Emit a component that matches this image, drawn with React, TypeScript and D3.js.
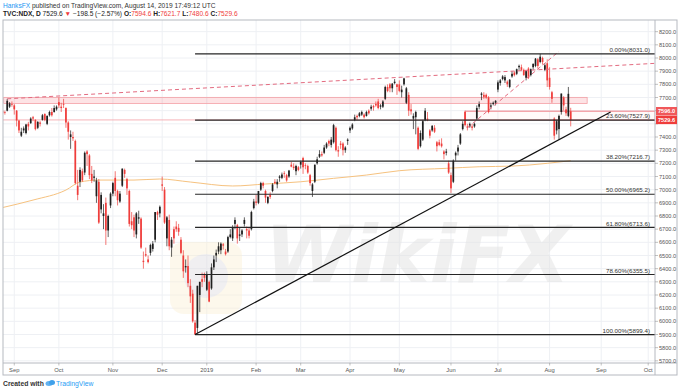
import React, { useEffect } from 'react';
import * as d3 from 'd3';

const W = 680;
const H = 392;

// daily NDX bars from Aug 27 2018 to Aug 14 2019, [open, high, low, close]
const candles: [number, number, number, number][] = [
  // Aug 2018
  [7600, 7610, 7570, 7580], [7590, 7600, 7570, 7585], [7600, 7690, 7595, 7675], [7630, 7665, 7620, 7655], [7650, 7670, 7630, 7645],
  // Sep
  [7640, 7650, 7570, 7610], [7600, 7605, 7480, 7525], [7525, 7530, 7430, 7450], [7410, 7470, 7400, 7440], [7450, 7480, 7430, 7465],
  [7430, 7500, 7420, 7495], [7500, 7515, 7450, 7480], [7505, 7550, 7500, 7540], [7550, 7560, 7520, 7540], [7530, 7535, 7450, 7460],
  [7470, 7520, 7460, 7515], [7510, 7520, 7480, 7500], [7530, 7575, 7525, 7565], [7575, 7580, 7520, 7530], [7500, 7565, 7490, 7560],
  [7565, 7600, 7555, 7590], [7590, 7620, 7555, 7565], [7590, 7640, 7585, 7620], [7610, 7640, 7600, 7630],
  // Oct
  [7665, 7700, 7620, 7640], [7630, 7660, 7590, 7620], [7650, 7690, 7620, 7645], [7620, 7625, 7470, 7510], [7510, 7520, 7380, 7440],
  [7400, 7450, 7310, 7420], [7400, 7440, 7370, 7390], [7370, 7380, 7040, 7050], [7030, 7150, 6920, 6960], [7060, 7170, 7020, 7150],
  [7140, 7160, 7060, 7070], [7130, 7290, 7110, 7280], [7290, 7300, 7180, 7270], [7260, 7270, 7080, 7110], [7120, 7180, 7050, 7070],
  [7090, 7150, 7060, 7100], [6950, 7090, 6900, 7070], [7060, 7080, 6740, 6750], [6850, 6980, 6820, 6960], [6800, 6890, 6700, 6820],
  [6900, 6940, 6580, 6690], [6690, 6810, 6640, 6800], [6880, 6980, 6860, 6970],
  // Nov
  [6970, 7060, 6950, 7050], [7090, 7140, 6950, 6990], [6990, 7000, 6880, 6920], [6910, 6990, 6900, 6970], [7030, 7160, 7020, 7160],
  [7150, 7160, 7090, 7120], [7080, 7090, 6960, 7010], [6990, 7000, 6720, 6740], [6760, 6830, 6700, 6730], [6790, 6810, 6640, 6690],
  [6660, 6830, 6630, 6820], [6780, 6840, 6740, 6790], [6780, 6790, 6550, 6560], [6460, 6530, 6400, 6450], [6510, 6560, 6490, 6500],
  [6470, 6500, 6440, 6450], [6520, 6590, 6500, 6580], [6550, 6610, 6530, 6590], [6620, 6830, 6600, 6830], [6830, 6840, 6770, 6810],
  [6820, 6880, 6790, 6870],
  // Dec
  [7040, 7100, 6990, 7030], [7000, 7020, 6740, 6750], [6630, 6800, 6570, 6790], [6770, 6810, 6540, 6570], [6560, 6640, 6490, 6620],
  [6700, 6720, 6590, 6630], [6720, 6760, 6680, 6700], [6710, 6740, 6650, 6680], [6620, 6640, 6510, 6520], [6500, 6540, 6330, 6380],
  [6410, 6470, 6370, 6420], [6420, 6500, 6260, 6290], [6270, 6320, 6140, 6190], [6210, 6240, 5990, 6000], [5990, 6010, 5899.4, 5900],
  [5950, 6270, 5910, 6270], [6200, 6300, 6070, 6300], [6320, 6370, 6260, 6300], [6360, 6370, 6300, 6330],
  // Jan 2019
  [6240, 6380, 6230, 6360], [6300, 6310, 6145, 6150], [6250, 6440, 6240, 6410], [6410, 6500, 6390, 6470], [6500, 6545, 6450, 6520],
  [6530, 6600, 6510, 6570], [6540, 6600, 6510, 6590], [6585, 6595, 6545, 6575], [6530, 6550, 6500, 6510], [6530, 6650, 6520, 6640],
  [6640, 6700, 6630, 6660], [6630, 6730, 6610, 6710], [6740, 6790, 6700, 6770], [6730, 6740, 6590, 6630], [6650, 6710, 6610, 6660],
  [6660, 6700, 6640, 6690], [6740, 6790, 6720, 6770], [6700, 6720, 6630, 6690], [6690, 6710, 6630, 6650], [6700, 6840, 6690, 6830],
  [6860, 6930, 6850, 6910],
  // Feb
  [6910, 6960, 6880, 6900], [6900, 6990, 6890, 6990], [7000, 7060, 6990, 7050], [7050, 7060, 7010, 7030], [6990, 7000, 6900, 6940],
  [6900, 6950, 6890, 6945], [6960, 6980, 6930, 6945], [6990, 7050, 6980, 7040], [7060, 7080, 7040, 7050], [7040, 7080, 7010, 7060],
  [7090, 7110, 7060, 7100], [7090, 7130, 7080, 7115], [7125, 7140, 7090, 7120], [7110, 7120, 7060, 7070], [7100, 7150, 7090, 7145],
  [7190, 7210, 7170, 7175], [7175, 7200, 7150, 7165], [7140, 7190, 7110, 7180], [7170, 7180, 7140, 7150],
  // Mar
  [7190, 7220, 7160, 7210], [7240, 7250, 7120, 7170], [7185, 7200, 7155, 7180], [7180, 7190, 7120, 7130], [7110, 7120, 7030, 7050],
  [6990, 7050, 6945, 7040], [7060, 7190, 7050, 7190], [7200, 7250, 7190, 7230], [7250, 7300, 7240, 7270], [7270, 7290, 7250, 7260],
  [7280, 7340, 7270, 7320], [7320, 7360, 7310, 7350], [7370, 7380, 7330, 7350], [7340, 7400, 7320, 7380], [7360, 7500, 7350, 7490],
  [7470, 7480, 7290, 7300], [7300, 7330, 7250, 7290], [7350, 7370, 7310, 7340], [7350, 7360, 7260, 7300], [7300, 7330, 7280, 7320],
  [7370, 7390, 7340, 7380],
  // Apr
  [7450, 7480, 7430, 7470], [7465, 7505, 7455, 7495], [7530, 7570, 7520, 7550], [7560, 7570, 7530, 7550], [7560, 7590, 7550, 7580],
  [7570, 7600, 7560, 7590], [7570, 7580, 7540, 7550], [7560, 7600, 7555, 7590], [7600, 7610, 7570, 7580], [7615, 7645, 7600, 7630],
  [7635, 7645, 7600, 7625], [7650, 7670, 7630, 7640], [7670, 7690, 7610, 7620], [7630, 7650, 7610, 7640], [7630, 7680, 7620, 7670],
  [7690, 7790, 7680, 7780], [7780, 7800, 7740, 7750], [7800, 7810, 7740, 7770], [7770, 7810, 7740, 7805], [7810, 7840, 7800, 7820],
  [7800, 7805, 7720, 7780],
  // May
  [7800, 7830, 7740, 7750], [7740, 7790, 7700, 7760], [7800, 7850, 7790, 7845], [7660, 7780, 7650, 7770], [7720, 7740, 7560, 7600],
  [7610, 7650, 7570, 7595], [7540, 7580, 7460, 7560], [7550, 7600, 7420, 7590], [7470, 7480, 7300, 7310], [7330, 7450, 7320, 7430],
  [7380, 7530, 7370, 7520], [7530, 7620, 7520, 7600], [7540, 7590, 7520, 7530], [7450, 7460, 7390, 7410], [7450, 7490, 7440, 7485],
  [7470, 7490, 7430, 7440], [7360, 7370, 7290, 7330], [7360, 7380, 7330, 7340], [7350, 7390, 7320, 7330], [7290, 7300, 7230, 7270],
  [7280, 7310, 7260, 7290], [7200, 7220, 7120, 7130],
  // Jun
  [7110, 7130, 6975, 7010], [7060, 7230, 7050, 7220], [7260, 7290, 7220, 7280], [7290, 7340, 7260, 7320], [7350, 7430, 7340, 7420],
  [7460, 7520, 7450, 7500], [7590, 7600, 7480, 7490], [7480, 7500, 7450, 7470], [7480, 7510, 7470, 7500], [7480, 7500, 7450, 7470],
  [7480, 7510, 7470, 7500], [7540, 7640, 7530, 7620], [7630, 7670, 7610, 7650], [7720, 7740, 7680, 7730], [7720, 7740, 7690, 7705],
  [7720, 7730, 7690, 7700], [7700, 7710, 7580, 7590], [7630, 7660, 7610, 7640], [7650, 7670, 7640, 7660], [7660, 7680, 7640, 7675],
  // Jul
  [7760, 7830, 7740, 7815], [7810, 7840, 7790, 7830], [7840, 7870, 7830, 7860], [7830, 7870, 7810, 7855], [7820, 7830, 7780, 7800],
  [7780, 7840, 7770, 7835], [7860, 7900, 7850, 7880], [7890, 7900, 7860, 7870], [7880, 7920, 7870, 7915], [7930, 7950, 7910, 7940],
  [7930, 7950, 7900, 7910], [7910, 7920, 7865, 7870], [7850, 7910, 7830, 7900], [7920, 7930, 7840, 7850], [7870, 7920, 7860, 7915],
  [7930, 7960, 7910, 7955], [7940, 8000, 7930, 7995], [7990, 8000, 7920, 7940], [7970, 8031, 7960, 8010], [8000, 8010, 7950, 7970],
  [7910, 7960, 7900, 7945], [7960, 7990, 7780, 7830],
  // Aug
  [7850, 7930, 7760, 7780], [7740, 7750, 7660, 7690], [7540, 7550, 7380, 7410], [7450, 7530, 7420, 7520], [7460, 7570, 7380, 7560],
  [7590, 7730, 7570, 7730], [7700, 7710, 7600, 7640], [7610, 7630, 7560, 7580], [7560, 7780, 7550, 7728.1], [7594.6, 7621.7, 7480.6, 7529.6],
];

// market holidays (for the bar calendar)
const holidays = [
  '2018-09-03', '2018-11-22', '2018-12-05', '2018-12-25', '2019-01-01', '2019-01-21',
  '2019-02-18', '2019-04-19', '2019-05-27', '2019-07-04', '2019-09-02',
];

// 200 day average as [bar, value]
const maPoints: [number, number][] = [
  [0, 6864], [13, 6921], [27, 6997], [33, 7058], [41, 7073], [56, 7073], [67, 7081], [80, 7058],
  [98, 7028], [112, 7043], [127, 7060], [141, 7086], [155, 7111], [169, 7144], [189, 7162],
  [203, 7174], [217, 7179], [232, 7200], [242, 7220],
];

const fibLabels = ['0.00%', '23.60%', '38.20%', '50.00%', '61.80%', '78.60%', '100.00%'];
const fibValues = [8031.0, 7527.9, 7216.7, 6965.2, 6713.6, 6355.5, 5899.4];

const yTickValues = [5700, 5800, 5900, 6000, 6100, 6200, 6300, 6400, 6500, 6600, 6700, 6800, 6900,
  7000, 7100, 7200, 7300, 7400, 7500, 7600, 7700, 7800, 7900, 8000, 8100, 8200];

// drawings: [bar, price]
const resistLine: [number, number][] = [[2, 7690], [171, 7855]];
const risingDash: [number, number][] = [[198, 7470], [237, 8050]];
const supportLine: [number, number][] = [[82, 5899.4], [259, 7590]];
const upperZone = { from: 0.5, to: 249, lo: 7655, hi: 7701 };
const lowerZone = { from: 197, lo: 7529.6, hi: 7596.0 };
const lastPrice = 7529.6;
const hLinePrice = 7596.0;

const RED = '#ef3d3b';
const DARK = '#1f1f1f';
const FONT = '"Liberation Sans", Arial, sans-serif';

export default function App() {
  useEffect(() => {
    document.body.style.margin = '0';
  }, []);

  const left = 3, right = 655, top = 20, bottom = 363, frameBottom = 375, frameRight = 677;

  // trading-day calendar
  const fmt = d3.utcFormat('%Y-%m-%d');
  const days = d3.utcDay
    .range(new Date(Date.UTC(2018, 7, 27)), new Date(Date.UTC(2019, 9, 31)))
    .filter(d => d.getUTCDay() !== 0 && d.getUTCDay() !== 6 && !holidays.includes(fmt(d)));
  const monthTicks = days
    .map((d, i) => ({ d, i }))
    .filter(({ d, i }) => i > 0 && d.getUTCMonth() !== days[i - 1].getUTCMonth());

  const x = d3.scaleLinear().domain([0.2, 277.9]).range([left, right]);
  const y = d3.scaleLinear().domain([5900, 8000]).range([334.5, 58]);

  const extend = (p: [number, number][], x1: number) => {
    const [a, b] = p;
    const slope = (b[1] - a[1]) / (b[0] - a[0]);
    return [a, [x1, a[1] + slope * (x1 - a[0])]] as [number, number][];
  };
  const seg = d3.line<[number, number]>().x(d => x(d[0])).y(d => y(d[1]));
  const maLine = d3.line<[number, number]>().x(d => x(d[0])).y(d => y(d[1])).curve(d3.curveMonotoneX);

  const fibStart = x(82);
  const bw = 1.7;

  // axis labels hidden behind the price boxes, like the original does
  const boxed = [hLinePrice, lastPrice];
  const visibleTicks = yTickValues.filter(v => boxed.every(b => Math.abs(y(v) - y(b)) > 7.5));

  return (
    <svg width={W} height={H} style={{ position: 'absolute', left: 0, top: 0, display: 'block', fontFamily: FONT }}>
      <rect width={W} height={H} fill="#fff" />

      {/* header */}
      <text x={3} y={7.5} fontSize={6.6} fill="#333">
        <tspan fill="#2196f3">HanksFX</tspan> published on TradingView.com, August 14, 2019 17:49:12 UTC
      </text>
      <text x={3} y={16.2} fontSize={6.6} fill="#222">
        <tspan fontWeight="bold">TVC:NDX, D</tspan>
        <tspan> 7529.6 </tspan>
        <tspan fill={RED}>▼</tspan>
        <tspan> −198.5 (−2.57%) </tspan>
        <tspan fontWeight="bold">O:</tspan><tspan fill={RED}>7594.6 </tspan>
        <tspan fontWeight="bold">H:</tspan><tspan fill={RED}>7621.7 </tspan>
        <tspan fontWeight="bold">L:</tspan><tspan fill={RED}>7480.6 </tspan>
        <tspan fontWeight="bold">C:</tspan><tspan fill={RED}>7529.6</tspan>
      </text>

      <defs>
        <clipPath id="plot">
          <rect x={left} y={top} width={right - left} height={bottom - top} />
        </clipPath>
      </defs>

      {/* grid */}
      <g stroke="#eef0f4" strokeWidth={1}>
        {yTickValues.map(v => (
          <line key={v} x1={left} x2={right} y1={y(v)} y2={y(v)} />
        ))}
        {monthTicks.map(({ i }) => (
          <line key={i} x1={x(i)} x2={x(i)} y1={top} y2={bottom} />
        ))}
      </g>

      {/* watermark */}
      <g opacity={0.5}>
        <rect x={170} y={242} width={72} height={72} rx={14} fill="#fbf0d2" opacity={0.8} />
        <circle cx={206} cy={276} r={22} fill="#dcdce6" opacity={0.8} />
        <text x={265} y={282} fontSize={78} fontWeight="bold" fontStyle="italic" fill="#e3e3e3" fontFamily="DejaVu Sans">
          WikiFX
        </text>
      </g>

      <g clipPath="url(#plot)">
        {/* zones */}
        <rect x={x(upperZone.from)} width={x(upperZone.to) - x(upperZone.from)}
          y={y(upperZone.hi)} height={y(upperZone.lo) - y(upperZone.hi)}
          fill="rgba(242,54,69,0.14)" stroke="#f4a0a6" strokeWidth={0.8} />
        <rect x={x(lowerZone.from)} width={right - x(lowerZone.from)}
          y={y(lowerZone.hi)} height={y(lowerZone.lo) - y(lowerZone.hi)}
          fill="rgba(242,54,69,0.03)" stroke="#f4a0a6" strokeWidth={0.8} />
        <line x1={left} x2={right} y1={y(lastPrice)} y2={y(lastPrice)} stroke="#f4a0a6" strokeWidth={0.8} />
        <line x1={x(lowerZone.from)} x2={right} y1={y(hLinePrice)} y2={y(hLinePrice)} stroke="#f08a92" strokeWidth={0.8} />

        {/* 200 sma */}
        <path d={maLine(maPoints) ?? ''} fill="none" stroke="#f6c27f" strokeWidth={1} />

        {/* candles */}
        {candles.map(([o, h, l, c], i) => {
          const col = c >= o ? DARK : RED;
          const yt = y(Math.max(o, c));
          const hh = Math.max(0.7, Math.abs(y(o) - y(c)));
          return (
            <g key={i}>
              <line x1={x(i)} x2={x(i)} y1={y(h)} y2={y(l)} stroke={col} strokeWidth={0.7} />
              <rect x={x(i) - bw / 2} y={yt} width={bw} height={hh} fill={col} />
            </g>
          );
        })}

        {/* dashed trend lines */}
        <path d={seg(extend(resistLine, 277.9)) ?? ''} fill="none" stroke="#e36b80" strokeWidth={1} strokeDasharray="4,3" />
        <path d={seg(risingDash) ?? ''} fill="none" stroke="#e36b80" strokeWidth={1} strokeDasharray="4,3" />

        {/* fibonacci */}
        {fibValues.map((v, k) => (
          <g key={k}>
            <line x1={fibStart} x2={right} y1={y(v)} y2={y(v)} stroke="#262626" strokeWidth={1.1} />
            <text x={650} y={y(v) - 1.8} fontSize={6.2} fill="#333" textAnchor="end">
              {fibLabels[k]}({v.toFixed(1)})
            </text>
          </g>
        ))}

        {/* support trend line */}
        <path d={seg(supportLine) ?? ''} fill="none" stroke="#111" strokeWidth={1.2} />
      </g>

      {/* frame and axes */}
      <rect x={left} y={top} width={frameRight - left} height={frameBottom - top} fill="none" stroke="#b6b9c0" strokeWidth={1} />
      <line x1={left} x2={frameRight} y1={bottom} y2={bottom} stroke="#b6b9c0" />
      <line x1={right} x2={right} y1={top} y2={frameBottom} stroke="#b6b9c0" />

      {yTickValues.map(v => (
        <line key={v} x1={right} x2={right + 3} y1={y(v)} y2={y(v)} stroke="#999" strokeWidth={0.6} />
      ))}
      {visibleTicks.map(v => (
        <text key={v} x={659} y={y(v) + 2} fontSize={5.6} fill="#555">{v.toFixed(1)}</text>
      ))}

      {monthTicks.map(({ d, i }) => (
        <g key={i}>
          <line x1={x(i)} x2={x(i)} y1={bottom} y2={bottom + 2.5} stroke="#999" strokeWidth={0.6} />
          <text x={x(i)} y={371.5} fontSize={5.8} fill="#555" textAnchor="middle">
            {d.getUTCMonth() === 0 ? d3.utcFormat('%Y')(d) : d3.utcFormat('%b')(d)}
          </text>
        </g>
      ))}

      {/* price labels */}
      {boxed.map((v, k) => (
        <g key={v}>
          <rect x={right + 1} y={y(v) - 4.2} width={21} height={8.4} fill={k === 0 ? '#f0585a' : '#ef3d3b'} />
          <text x={right + 11.5} y={y(v) + 2.1} fontSize={5.6} fill="#fff" fontWeight="bold" textAnchor="middle">{v.toFixed(1)}</text>
        </g>
      ))}

      {/* footer */}
      <text x={3} y={385.5} fontSize={6.8} fill="#333" fontWeight="bold">Created with</text>
      <g transform="translate(45,380)">
        <ellipse cx={4} cy={3.5} rx={3.5} ry={2.5} fill="#62b2f0" />
        <ellipse cx={7} cy={2.5} rx={3} ry={2.5} fill="#3fa0ea" />
      </g>
      <text x={56} y={385.5} fontSize={6.8} fill="#2a9df4">TradingView</text>
    </svg>
  );
}
